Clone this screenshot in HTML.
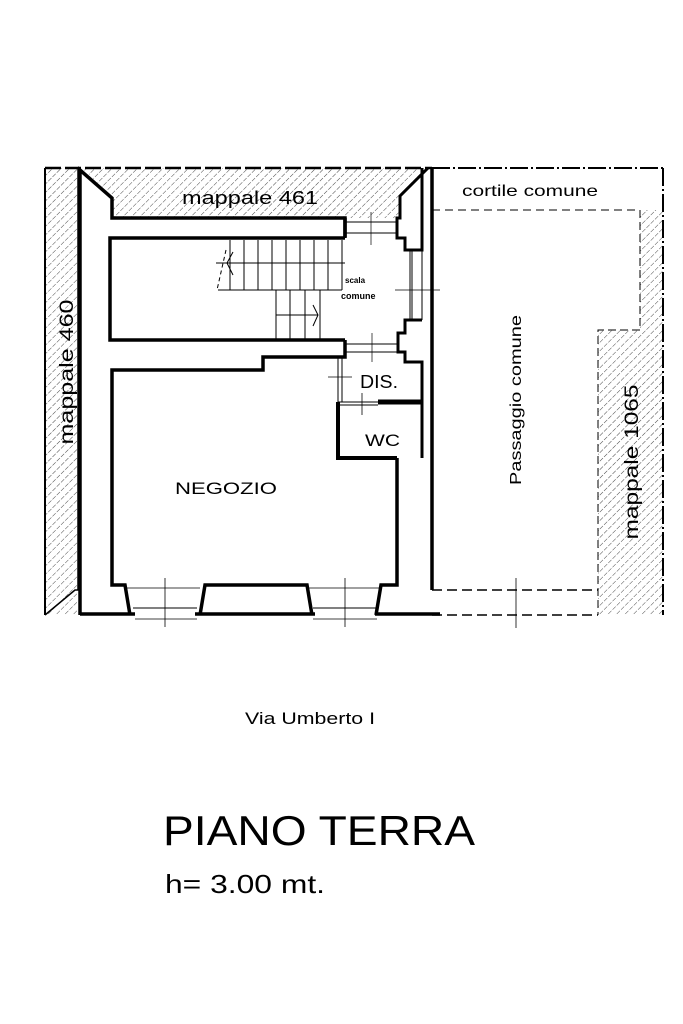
<!DOCTYPE html>
<html><head><meta charset="utf-8"><style>
html,body{margin:0;padding:0;background:#fff;}
svg{display:block;}
text{font-family:"Liberation Sans",sans-serif;fill:#000;}
</style></head><body>
<svg width="683" height="1024" viewBox="0 0 683 1024" xmlns="http://www.w3.org/2000/svg">
<defs>
<pattern id="h" width="6" height="6" patternUnits="userSpaceOnUse" patternTransform="rotate(45)">
<line x1="0" y1="0" x2="0" y2="6" stroke="#333" stroke-width="0.9" stroke-dasharray="4 1.5"/>
</pattern>
</defs>
<rect x="45" y="168" width="33" height="447" fill="url(#h)"/>
<polygon points="82,168 428,168 400,196 400,218 112,218 112,196" fill="url(#h)"/>
<polygon points="640,210 663,210 663,615 598,615 598,330 640,330" fill="url(#h)"/>
<g stroke="#000" fill="none">
<line x1="45" y1="168" x2="432" y2="168" stroke-width="2.5" stroke-dasharray="16 4"/>
<line x1="432" y1="168" x2="663" y2="168" stroke-width="2" stroke-dasharray="18 3 2 3"/>
<line x1="663" y1="168" x2="663" y2="615" stroke-width="2" stroke-dasharray="18 3 2 3"/>
<line x1="432" y1="210" x2="640" y2="210" stroke-width="1" stroke-dasharray="8 5"/>
<polyline points="640,210 640,330 598,330 598,615" stroke-width="1" stroke-dasharray="8 4"/>
<line x1="432" y1="590" x2="598" y2="590" stroke-width="1.5" stroke-dasharray="10 5"/>
<line x1="432" y1="615" x2="598" y2="615" stroke-width="1.5" stroke-dasharray="10 5"/>
<line x1="516" y1="578" x2="516" y2="628" stroke-width="0.8"/>
<line x1="45" y1="168" x2="45" y2="615" stroke-width="2"/>
<polyline points="45,615 75,590 78,590 78,168" stroke-width="1.5"/>
<polyline points="80,615 80,170 112,198 112,218 345,218 345,237" stroke-width="3.5"/>
<polyline points="345,238 110,238 110,340 345,340" stroke-width="3.5"/>
<line x1="345" y1="218" x2="345" y2="238" stroke-width="3.5"/>
<polyline points="345,340 345,357 263,357 263,370 112,370 112,585 125,585 130,615" stroke-width="3.5"/>
<polyline points="200,615 205,585 307,585 312,615" stroke-width="3.5"/>
<polyline points="376,615 381,585 397,585 397,458" stroke-width="3.5"/>
<line x1="80" y1="614" x2="135" y2="614" stroke-width="3.5"/>
<line x1="195" y1="614" x2="315" y2="614" stroke-width="3.5"/>
<line x1="375" y1="614" x2="440" y2="614" stroke-width="3.5"/>
<line x1="125" y1="588" x2="200" y2="588" stroke-width="0.8"/>
<line x1="307" y1="588" x2="381" y2="588" stroke-width="0.8"/>
<line x1="133" y1="608" x2="197" y2="608" stroke-width="1"/>
<line x1="313" y1="608" x2="377" y2="608" stroke-width="1"/>
<line x1="135" y1="619" x2="197" y2="619" stroke-width="0.8"/>
<line x1="313" y1="619" x2="377" y2="619" stroke-width="0.8"/>
<line x1="165" y1="578" x2="165" y2="627" stroke-width="0.8"/>
<line x1="345" y1="578" x2="345" y2="627" stroke-width="0.8"/>
<polyline points="338,402 338,458 397,458" stroke-width="4"/>
<line x1="378" y1="402" x2="422" y2="402" stroke-width="5"/>
<line x1="338" y1="402" x2="378" y2="402" stroke-width="1"/>
<line x1="338" y1="405" x2="378" y2="405" stroke-width="1"/>
<line x1="362" y1="393" x2="362" y2="415" stroke-width="0.8"/>
<line x1="338" y1="357" x2="338" y2="402" stroke-width="1"/>
<line x1="342" y1="357" x2="342" y2="402" stroke-width="1"/>
<line x1="328" y1="377" x2="352" y2="377" stroke-width="0.8"/>
<line x1="432" y1="168" x2="432" y2="590" stroke-width="3.5"/>
<polyline points="428,168 400,196 400,218 397,218 397,238 405,238 405,250 422,250 422,168" stroke-width="3"/>
<polyline points="422,320 405,320 405,333 398,333 398,352 405,352 405,362 422,362 422,458" stroke-width="3"/>
<line x1="422" y1="250" x2="422" y2="320" stroke-width="1"/>
<line x1="410" y1="250" x2="410" y2="320" stroke-width="1"/>
<line x1="412" y1="250" x2="412" y2="320" stroke-width="1"/>
<line x1="395" y1="290" x2="440" y2="290" stroke-width="0.7"/>
<line x1="345" y1="222" x2="397" y2="222" stroke-width="1"/>
<line x1="345" y1="233" x2="397" y2="233" stroke-width="1"/>
<line x1="371" y1="212" x2="371" y2="245" stroke-width="0.7"/>
<line x1="345" y1="344" x2="398" y2="344" stroke-width="1"/>
<line x1="345" y1="352" x2="398" y2="352" stroke-width="1"/>
<line x1="372" y1="333" x2="372" y2="362" stroke-width="0.7"/>
<g stroke-width="1">
<line x1="216" y1="263" x2="345" y2="263"/>
<line x1="218" y1="290" x2="342" y2="290"/>
<line x1="230" y1="240" x2="230" y2="290"/>
<line x1="244" y1="240" x2="244" y2="290"/>
<line x1="258" y1="240" x2="258" y2="290"/>
<line x1="272" y1="240" x2="272" y2="290"/>
<line x1="286" y1="240" x2="286" y2="290"/>
<line x1="300" y1="240" x2="300" y2="290"/>
<line x1="314" y1="240" x2="314" y2="290"/>
<line x1="328" y1="240" x2="328" y2="290"/>
<line x1="342" y1="240" x2="342" y2="290"/>
<line x1="226" y1="250" x2="217" y2="290" stroke-dasharray="4 3"/>
<polyline points="233,252 227,263 233,275"/>
<line x1="276" y1="290" x2="276" y2="340"/>
<line x1="290" y1="290" x2="290" y2="340"/>
<line x1="305" y1="290" x2="305" y2="340"/>
<line x1="320" y1="290" x2="320" y2="340"/>
<line x1="276" y1="315" x2="318" y2="315"/>
<polyline points="313,305 318,315 313,326"/>
</g>
</g>
<text x="182" y="204" font-size="18" textLength="136" lengthAdjust="spacingAndGlyphs">mappale 461</text>
<text x="462" y="196" font-size="16" textLength="136" lengthAdjust="spacingAndGlyphs">cortile comune</text>
<text x="345" y="283" font-size="8" font-weight="bold">scala</text>
<text x="341" y="299" font-size="9" font-weight="bold">comune</text>
<text x="360" y="388" font-size="18" textLength="38" lengthAdjust="spacingAndGlyphs">DIS.</text>
<text x="365" y="446" font-size="17" textLength="35" lengthAdjust="spacingAndGlyphs">WC</text>
<text x="175" y="494" font-size="17" textLength="102" lengthAdjust="spacingAndGlyphs">NEGOZIO</text>
<text transform="translate(73,372) rotate(-90)" text-anchor="middle" font-size="19" textLength="145" lengthAdjust="spacingAndGlyphs">mappale 460</text>
<text transform="translate(521,400) rotate(-90)" text-anchor="middle" font-size="16" textLength="170" lengthAdjust="spacingAndGlyphs">Passaggio comune</text>
<text transform="translate(638,462) rotate(-90)" text-anchor="middle" font-size="19" textLength="155" lengthAdjust="spacingAndGlyphs">mappale 1065</text>
<text x="245" y="724" font-size="17" textLength="130" lengthAdjust="spacingAndGlyphs">Via Umberto I</text>
<text x="163" y="845" font-size="42" textLength="312" lengthAdjust="spacingAndGlyphs">PIANO TERRA</text>
<text x="165" y="893" font-size="26" textLength="160" lengthAdjust="spacingAndGlyphs">h= 3.00 mt.</text>
</svg>
</body></html>
